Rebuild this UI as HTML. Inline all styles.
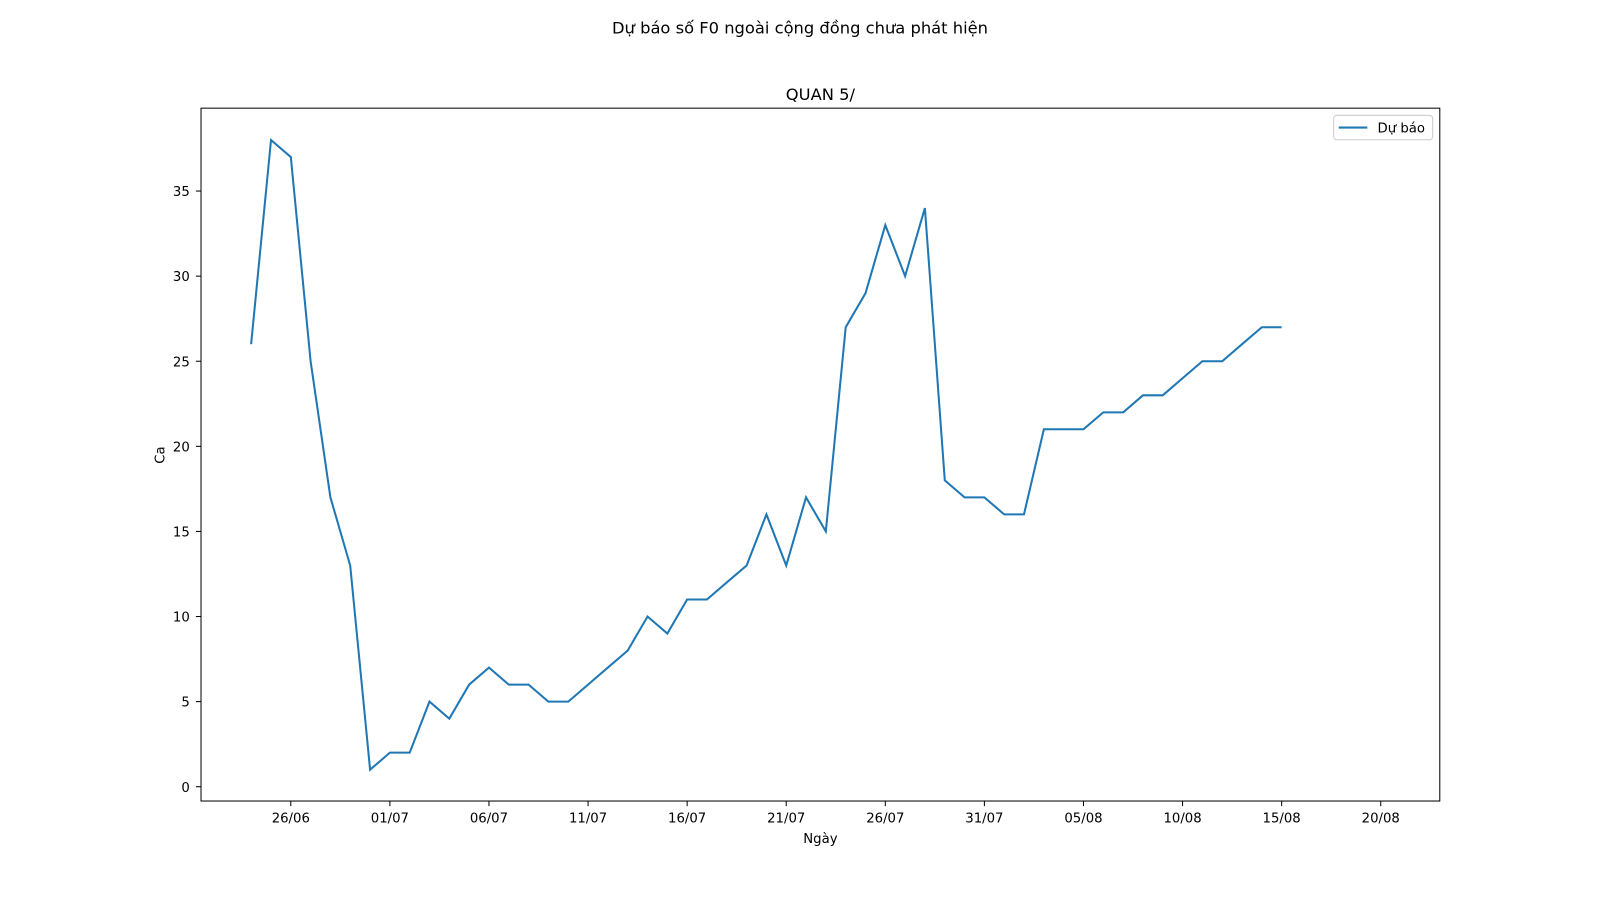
<!DOCTYPE html>
<html><head><meta charset="utf-8"><style>
body{margin:0;background:#fff;}
svg{font-family:"DejaVu Sans","Liberation Sans",sans-serif;display:block;}
</style></head><body>
<svg id="chart" width="1600" height="900" viewBox="0 0 1568 882" xmlns="http://www.w3.org/2000/svg">
<text x="784" y="33" text-anchor="middle" font-size="16">Dự báo số F0 ngoài cộng đồng chưa phát hiện</text>
<text x="804" y="98" text-anchor="middle" font-size="16">QUAN 5/</text>
<g id="ticks"></g>
<polyline id="line" fill="none" stroke="#1f77b4" stroke-width="2"/>
<rect x="197" y="106" width="1214" height="679" fill="none" stroke="#000" stroke-width="1"/>
<text x="804" y="826" text-anchor="middle" font-size="13">Ngày</text>
<text transform="translate(161,446) rotate(-90)" text-anchor="middle" font-size="13">Ca</text>
<g>
<rect x="1307" y="113" width="97" height="24" rx="3" fill="#fff" stroke="#ccc"/>
<line x1="1312" y1="125" x2="1340" y2="125" stroke="#1f77b4" stroke-width="2"/>
<text x="1350" y="130" font-size="13">Dự báo</text>
</g>
</svg>
<script>
const values=[26,38,37,25,17,13,1,2,2,5,4,6,7,6,6,5,5,6,7,8,10,9,11,11,12,13,16,13,17,15,27,29,33,30,34,18,17,17,16,16,21,21,21,22,22,23,23,24,25,25,26,27,27];
const xTickLabels=["26/06","01/07","06/07","11/07","16/07","21/07","26/07","31/07","05/08","10/08","15/08","20/08"];
const xTickDays=[2,7,12,17,22,27,32,37,42,47,52,57];
const yTicks=[0,5,10,15,20,25,30,35];
const X0=197,X1=1411,Y0=785,Y1=106,dmin=-2.53,dmax=59.98,vmin=-0.84,vmax=39.87;
const sx=d=>X0+(d-dmin)/(dmax-dmin)*(X1-X0);
const sy=v=>Y0-(v-vmin)/(vmax-vmin)*(Y0-Y1);
const NS="http://www.w3.org/2000/svg";
document.getElementById('line').setAttribute('points',values.map((v,i)=>sx(i).toFixed(1)+','+sy(v).toFixed(1)).join(' '));
const g=document.getElementById('ticks');
xTickDays.forEach((d,i)=>{
 const x=sx(d);
 const l=document.createElementNS(NS,'line');
 l.setAttribute('x1',x);l.setAttribute('x2',x);l.setAttribute('y1',785);l.setAttribute('y2',790);l.setAttribute('stroke','#000');
 
 
 g.appendChild(l);
 const t=document.createElementNS(NS,'text');
 t.setAttribute('x',x);t.setAttribute('y',806);t.setAttribute('text-anchor','middle');t.setAttribute('font-size','13');
 t.textContent=xTickLabels[i];
 
 
 g.appendChild(t);
});
yTicks.forEach(v=>{
 const y=sy(v);
 const l=document.createElementNS(NS,'line');
 l.setAttribute('x1',192);l.setAttribute('x2',197);l.setAttribute('y1',y);l.setAttribute('y2',y);l.setAttribute('stroke','#000');
 
 
 g.appendChild(l);
 const t=document.createElementNS(NS,'text');
 t.setAttribute('x',186);t.setAttribute('y',y+5);t.setAttribute('text-anchor','end');t.setAttribute('font-size','13');
 t.textContent=v;
 
 
 g.appendChild(t);
});
</script>
</body></html>
